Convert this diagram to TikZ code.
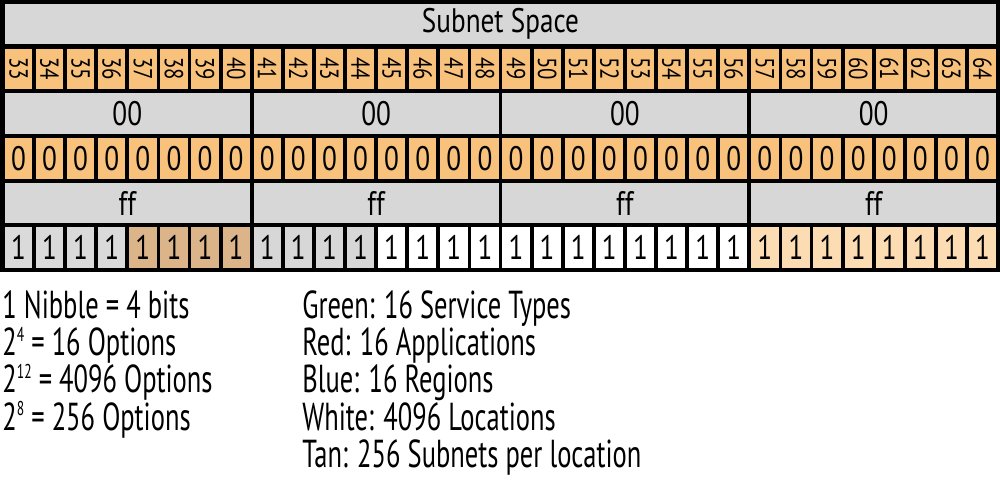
\documentclass[tikz,border=0pt]{standalone}
\usepackage{fontspec}
\setmainfont{PT Sans}[FakeStretch=0.8]
\newfontfamily\legendfont{PT Sans}[FakeStretch=0.68]
\newcommand\pow[1]{\raisebox{0.75ex}{\fontsize{10}{10}\selectfont#1}}
\definecolor{framegray}{HTML}{D6D7D6}
\definecolor{bitorange}{HTML}{F8C27C}
\definecolor{bitlight}{HTML}{DADADA}
\definecolor{bitbrown}{HTML}{DCB48A}
\definecolor{bittan}{HTML}{FCDDB3}
\tikzset{
  bitcell/.style={inner sep=0pt,outer sep=0pt,minimum width=13.65pt,minimum height=20.25pt,font=\fontsize{17}{17}\selectfont},
  bytecell/.style={bitcell,minimum width=122.5pt,fill=framegray},
  numcell/.style={inner sep=0pt,outer sep=0pt,rotate=-90,minimum width=20.25pt,minimum height=13.65pt,fill=bitorange,font=\fontsize{13}{13}\selectfont},
  legendtext/.style={anchor=base west,inner sep=0pt,font=\legendfont\fontsize{19.5}{19.5}\selectfont}
}
\begin{document}
\begin{tikzpicture}[x=0.5pt,y=-0.5pt]
    \useasboundingbox (0,0) rectangle (1000,480);
    \fill (0,0) rectangle (1000,272);
    % title row
    \node[bitcell,minimum width=495.7pt,fill=framegray] (space) at (500.5,24.25) {Subnet Space};
    % bit numbers
    \foreach \i in {0,...,31} {
        \pgfmathtruncatemacro\num{33+\i}
        \node[numcell] (n\i) at ({18.45+31.1*\i},68.95) {\num};
    }
    % nibble pairs
    \foreach \g in {0,...,3} {
        \node[bytecell] (zz\g) at ({127.3+248.8*\g},113.65) {00};
        \node[bytecell] (ff\g) at ({127.3+248.8*\g},203.05) {ff};
    }
    % zeros
    \foreach \i in {0,...,31}
        \node[bitcell,fill=bitorange] (z\i) at ({18.45+31.1*\i},158.35) {0};
    % ones
    \foreach \i in {0,...,3}
        \node[bitcell,fill=bitlight] (o\i) at ({18.45+31.1*\i},247.75) {1};
    \foreach \i in {4,...,7}
        \node[bitcell,fill=bitbrown] (o\i) at ({18.45+31.1*\i},247.75) {1};
    \foreach \i in {8,...,11}
        \node[bitcell,fill=framegray] (o\i) at ({18.45+31.1*\i},247.75) {1};
    \foreach \i in {12,...,23}
        \node[bitcell,fill=white] (o\i) at ({18.45+31.1*\i},247.75) {1};
    \foreach \i in {24,...,31}
        \node[bitcell,fill=bittan] (o\i) at ({18.45+31.1*\i},247.75) {1};
    % legend
    \node[legendtext] (nib) at (2,319) {1 Nibble = 4 bits};
    \node[legendtext] (opt4) at (2,356) {2\pow{4} = 16 Options};
    \node[legendtext] (opt12) at (2,393) {2\pow{12} = 4096 Options};
    \node[legendtext] (opt8) at (2,430) {2\pow{8} = 256 Options};
    \node[legendtext] (green) at (302,319) {Green: 16 Service Types};
    \node[legendtext] (red) at (302,356) {Red: 16 Applications};
    \node[legendtext] (blue) at (302,393) {Blue: 16 Regions};
    \node[legendtext] (white) at (302,430) {White: 4096 Locations};
    \node[legendtext] (tan) at (302,467) {Tan: 256 Subnets per location};
\end{tikzpicture}
\end{document}
